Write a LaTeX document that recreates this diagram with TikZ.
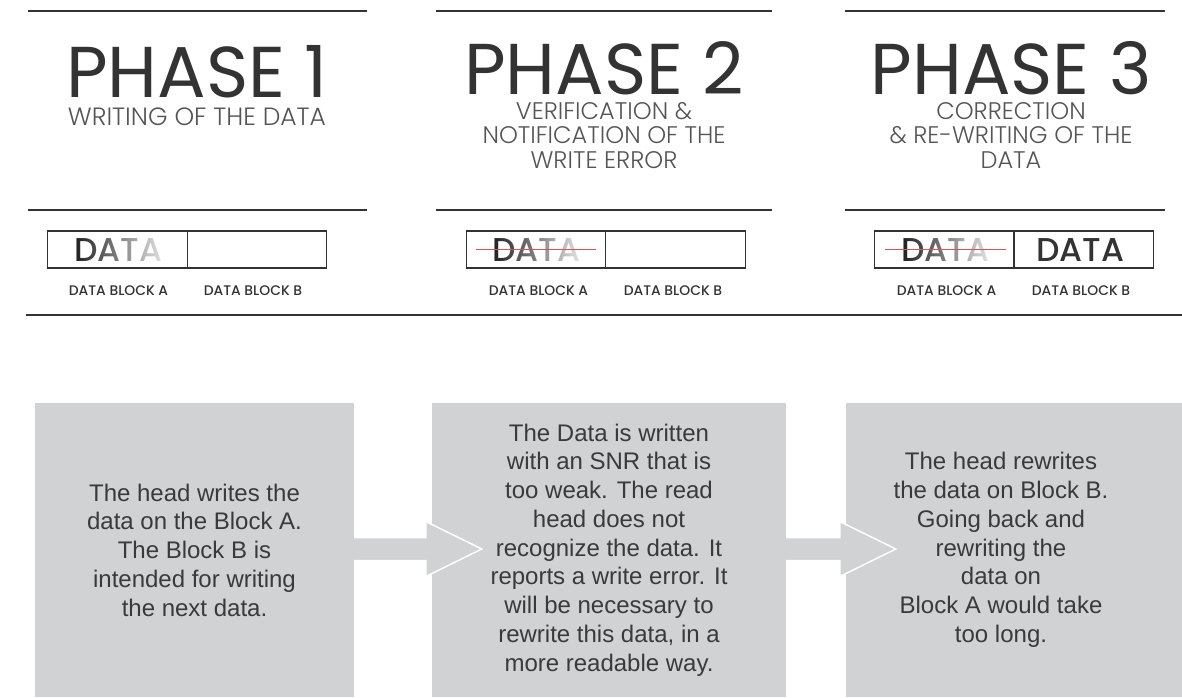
\documentclass[tikz,border=0pt]{standalone}
\usepackage{fontspec}
\setmainfont{Liberation Sans}
\newfontfamily\phasefont{Poppins}
\newfontfamily\phaselight{Poppins Light}
\newfontfamily\phasemed{Poppins Medium}
\usetikzlibrary{positioning,calc,fadings}
\definecolor{inkgray}{HTML}{333333}
\definecolor{inkdark}{HTML}{1A1A1A}
\definecolor{subgray}{HTML}{555555}
\definecolor{boxgray}{HTML}{D1D2D4}
\definecolor{bodyink}{HTML}{3A3A3A}
\definecolor{strikered}{HTML}{E0505A}

\begin{document}
\begin{tikzpicture}[x=1pt,y=-1pt,
    rule/.style={draw=inkgray,line width=1.3pt},
    phasetitle/.style={anchor=base,inner sep=0pt,text=inkgray,font=\phasefont\fontsize{72}{72}\selectfont},
    phasesub/.style={anchor=north,inner sep=0pt,align=center,text=subgray,font=\phaselight\fontsize{24}{24.5}\selectfont},
    blockcell/.style={draw=inkgray,line width=1.4pt,minimum width=139.5pt,minimum height=37pt,inner sep=0pt},
    blockword/.style={anchor=base,inner sep=0pt,text=inkgray,font=\phasemed\fontsize{33}{33}\selectfont},
    blocklabel/.style={anchor=base,inner sep=0pt,text=inkgray,font=\phasemed\fontsize{13.9}{14}\selectfont},
    strike/.style={draw=strikered,line width=1pt},
    stepbox/.style={fill=boxgray,inner sep=0pt,minimum height=294pt},
    steptext/.style={inner sep=0pt,align=center,text=bodyink,font=\fontsize{24}{28.75}\selectfont}]
  \useasboundingbox (0,0) rectangle (1182,697);

  % rules
  \foreach \l/\r in {28/367,436/772,845/1165}{
    \draw[rule] (\l,11) -- (\r,11);
    \draw[rule] (\l,210) -- (\r,210);
  }
  \draw[rule,line width=1.5pt] (26,315) -- (1182,315);

  % titles
  \node[phasetitle] (ph1) at (197,97) {PHASE 1};
  \node[phasetitle] (ph2) at (604,94) {PHASE 2};
  \node[phasetitle] (ph3) at (1011,94) {PHASE 3};
  \node[phasesub,font=\phaselight\fontsize{25}{25.5}\selectfont] (sub1) at (197,108) {WRITING OF THE DATA};
  \node[phasesub] (sub2) at (604,102) {VERIFICATION \&\\NOTIFICATION OF THE\\WRITE ERROR};
  \node[phasesub] (sub3) at (1011,102) {CORRECTION\\\& RE-WRITING OF THE\\DATA};

  % data blocks
  \node[blockcell] (cellA1) at (117.5,249.5) {};
  \node[blockcell] (cellB1) at (257,249.5) {};
  \node[blockcell] (cellA2) at (536,249.5) {};
  \node[blockcell] (cellB2) at (675.5,249.5) {};
  \node[blockcell] (cellA3) at (944.5,249.5) {};
  \node[blockcell] (cellB3) at (1083.5,249.5) {};
  \node[blockword,text=inkdark] (wordA1) at (118.5,261) {DATA};
  \node[blockword,text=inkdark] (wordA2) at (536,261) {DATA};
  \node[blockword,text=inkdark] (wordA3) at (945.5,261) {DATA};
  \node[blockword] (wordB3) at (1080,261) {DATA};
  \foreach \w in {wordA1,wordA2,wordA3}{
    \fill[white,path fading=west,fill opacity=.9] ($(\w.north west)+(-2,0)$) rectangle ($(\w.south east)+(2,0)$);
  }
  \draw[strike] ($(wordA2.base west)+(-16,-12)$) -- ($(wordA2.base east)+(16,-12)$);
  \draw[strike] ($(wordA3.base west)+(-16,-12)$) -- ($(wordA3.base east)+(16,-12)$);
  \node[blocklabel] (labA1) at (118.5,295) {DATA BLOCK A};
  \node[blocklabel] (labB1) at (253,295) {DATA BLOCK B};
  \node[blocklabel] (labA2) at (538.5,295) {DATA BLOCK A};
  \node[blocklabel] (labB2) at (673,295) {DATA BLOCK B};
  \node[blocklabel] (labA3) at (946.5,295) {DATA BLOCK A};
  \node[blocklabel] (labB3) at (1081,295) {DATA BLOCK B};

  % steps
  \node[stepbox,minimum width=319pt] (box1) at (194.5,550) {};
  \node[stepbox,minimum width=354pt] (box2) at (609,550) {};
  \node[stepbox,minimum width=336pt] (box3) at (1014,550) {};
  \node[steptext] (txt1) at (box1.center) {The head writes the\\data on the Block A.\\The Block B is\\intended for writing\\the next data.};
  \node[steptext] (txt2) at (box2.center) {The Data is written\\with an SNR that is\\too weak. The read\\head does not\\recognize the data. It\\reports a write error. It\\will be necessary to\\rewrite this data, in a\\more readable way.};
  \node[steptext] (txt3) at ($(box3.center)+(-13,0)$) {The head rewrites\\the data on Block B.\\Going back and\\rewriting the\\data on\\Block A would take\\too long.};

  % arrows
  \foreach \a/\b in {box1/box2,box2/box3}{
    \fill[boxgray] ($(\a.east)+(0,-12.5)$) -- ($(\b.west)+(-6,-12.5)$) -- ($(\b.west)+(-6,-28.5)$)
      -- ($(\b.west)+(50,-1)$) -- ($(\b.west)+(-6,26.5)$) -- ($(\b.west)+(-6,10.5)$) -- ($(\a.east)+(0,10.5)$) -- cycle;
    \draw[white,line width=1.5pt,line join=miter] ($(\a.east)+(0,-12.5)$) -- ($(\b.west)+(-6,-12.5)$) -- ($(\b.west)+(-6,-28.5)$)
      -- ($(\b.west)+(50,-1)$) -- ($(\b.west)+(-6,26.5)$) -- ($(\b.west)+(-6,10.5)$) -- ($(\a.east)+(0,10.5)$);
  }
\end{tikzpicture}
\end{document}
